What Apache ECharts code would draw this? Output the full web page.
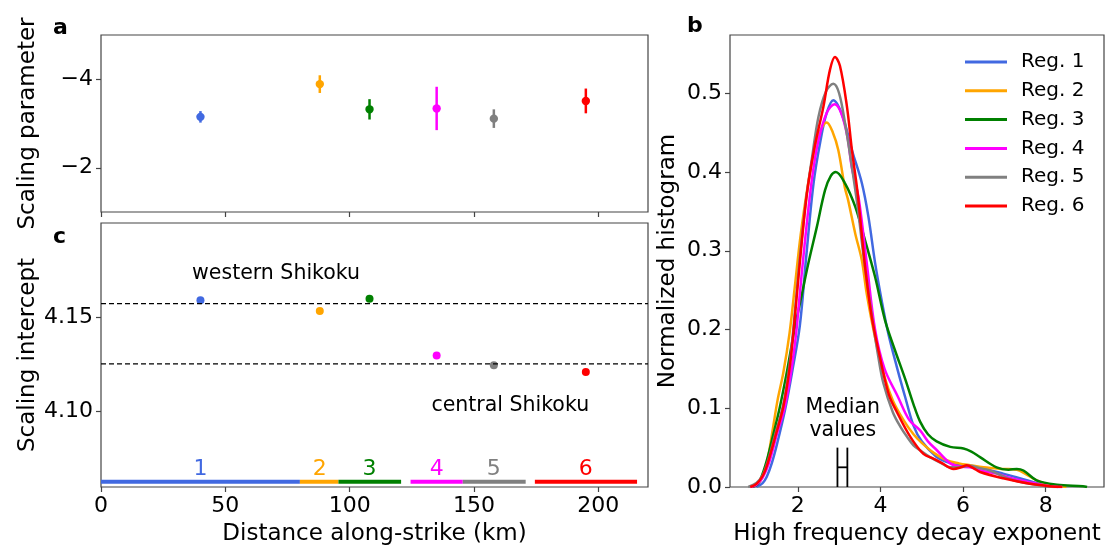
<!DOCTYPE html>
<html><head><meta charset="utf-8">
<script src="https://cdn.jsdelivr.net/npm/echarts@6/dist/echarts.min.js"></script>
<style>html,body{margin:0;padding:0;background:#fff}#c{width:1110px;height:546px}</style>
</head><body><div id="c"></div>
<script>
// ---------- data ----------
const regions = ['Reg. 1','Reg. 2','Reg. 3','Reg. 4','Reg. 5','Reg. 6'];
const regionNumbers = ['1','2','3','4','5','6'];
const distances = [40, 88, 108, 135, 158, 195];
const scalingParam = [-3.15, -3.89, -3.32, -3.34, -3.11, -3.51];
const scalingParamErr = [0.13, 0.20, 0.23, 0.49, 0.21, 0.28];
const scalingIntercept = [4.159, 4.1533, 4.1598, 4.1298, 4.1246, 4.121];
const westernLevel = 4.1572;
const centralLevel = 4.1253;
const regionStart = [0, 80, 95.5, 124.5, 145.5, 174.5];
const regionEnd = [80, 95.5, 120.7, 145.5, 170.8, 215.6];
const regionBarLevel = 4.0628;
const regionLabelLevel = 4.0693;
const annotationTexts = ['western Shikoku', 'central Shikoku'];
const annotationX = [70.4, 164.6];
const annotationY = [4.173, 4.103];
const medianRange = [2.96, 3.2];
const medianMarkTop = 0.05;
const medianTextPos = [3.09, 0.086];
const xTicksAC = [0, 50, 100, 150, 200];
const yTicksA = [-4, -2];
const yTicksC = [4.10, 4.15];
const xTicksB = [2, 4, 6, 8];
const yTicksB = [0, 0.1, 0.2, 0.3, 0.4, 0.5];

const reg1Curve = [[1.0,0],[1.15,0.005],[1.25,0.013],[1.37,0.03],[1.5,0.055],[1.7,0.1],[1.87,0.148],[2.05,0.205],[2.2,0.29],[2.38,0.385],[2.55,0.44],[2.7,0.475],[2.86,0.491],[3.0,0.482],[3.15,0.46],[3.31,0.428],[3.55,0.386],[3.71,0.343],[3.87,0.285],[4.03,0.237],[4.19,0.195],[4.4,0.152],[4.6,0.114],[4.8,0.078],[5.0,0.058],[5.36,0.038],[5.6,0.032],[5.85,0.028],[6.33,0.025],[6.97,0.017],[7.54,0.0085],[7.95,0.003],[8.3,0]];
const reg2Curve = [[0.9,0],[1.1,0.008],[1.25,0.03],[1.4,0.075],[1.51,0.11],[1.65,0.145],[1.8,0.195],[1.93,0.255],[2.07,0.32],[2.25,0.385],[2.45,0.44],[2.6,0.458],[2.7,0.463],[2.85,0.45],[2.98,0.428],[3.14,0.38],[3.22,0.364],[3.39,0.322],[3.55,0.288],[3.67,0.245],[3.87,0.19],[4.1,0.14],[4.3,0.11],[4.56,0.085],[4.8,0.067],[5.0,0.056],[5.3,0.043],[5.6,0.034],[5.9,0.03],[6.17,0.0276],[6.5,0.025],[6.97,0.023],[7.3,0.022],[7.5,0.017],[7.78,0.0085],[8.1,0.003],[8.5,0]];
const reg3Curve = [[0.9,0],[1.05,0.005],[1.23,0.03],[1.4,0.065],[1.56,0.1],[1.75,0.15],[1.92,0.2],[2.1,0.245],[2.26,0.285],[2.46,0.33],[2.66,0.377],[2.8,0.395],[2.92,0.4],[3.14,0.386],[3.39,0.356],[3.63,0.313],[3.87,0.267],[4.11,0.212],[4.35,0.174],[4.6,0.137],[4.8,0.105],[4.96,0.083],[5.15,0.067],[5.36,0.058],[5.69,0.051],[6.01,0.049],[6.2,0.045],[6.41,0.038],[6.81,0.025],[7.1,0.022],[7.3,0.023],[7.46,0.021],[7.78,0.0085],[8.27,0.003],[8.9,0.001],[9.0,0]];
const reg4Curve = [[0.85,0],[1.0,0.003],[1.15,0.012],[1.3,0.03],[1.5,0.068],[1.68,0.1],[1.85,0.15],[1.96,0.195],[2.04,0.24],[2.16,0.305],[2.34,0.39],[2.5,0.44],[2.7,0.475],[2.89,0.486],[3.05,0.475],[3.2,0.445],[3.31,0.405],[3.47,0.368],[3.67,0.284],[3.87,0.2],[4.1,0.15],[4.42,0.115],[4.7,0.085],[4.96,0.072],[5.15,0.058],[5.36,0.047],[5.69,0.03],[5.9,0.026],[6.17,0.025],[6.5,0.02],[6.81,0.017],[7.1,0.012],[7.38,0.0085],[7.78,0.004],[8.1,0.001],[8.4,0]];
const reg5Curve = [[0.8,0],[1.0,0.005],[1.15,0.015],[1.27,0.032],[1.45,0.066],[1.65,0.105],[1.8,0.155],[1.9,0.205],[2.03,0.28],[2.2,0.365],[2.35,0.42],[2.5,0.47],[2.68,0.502],[2.86,0.512],[3.0,0.5],[3.15,0.46],[3.3,0.41],[3.45,0.355],[3.6,0.29],[3.8,0.215],[3.95,0.165],[4.07,0.132],[4.3,0.095],[4.5,0.075],[4.64,0.064],[4.8,0.053],[5.0,0.045],[5.2,0.038],[5.45,0.031],[5.69,0.025],[5.9,0.025],[6.17,0.027],[6.4,0.024],[6.65,0.021],[6.95,0.014],[7.22,0.0085],[7.62,0.004],[8.0,0.001],[8.3,0]];
const reg6Curve = [[0.85,0],[1.0,0.004],[1.15,0.014],[1.27,0.03],[1.45,0.063],[1.65,0.102],[1.8,0.15],[1.91,0.205],[2.04,0.28],[2.22,0.372],[2.4,0.43],[2.62,0.483],[2.78,0.53],[2.9,0.546],[3.02,0.535],[3.19,0.483],[3.31,0.428],[3.44,0.377],[3.55,0.32],[3.65,0.27],[3.79,0.216],[3.95,0.174],[4.2,0.118],[4.4,0.095],[4.72,0.064],[5.04,0.042],[5.28,0.036],[5.5,0.03],[5.77,0.023],[5.95,0.025],[6.09,0.0276],[6.25,0.024],[6.41,0.019],[6.97,0.011],[7.62,0.004],[8.1,0.001],[8.4,0]];
const curves = [reg1Curve, reg2Curve, reg3Curve, reg4Curve, reg5Curve, reg6Curve];

// ---------- styles ----------
const colors = ['#4169E1','#FFA500','#008000','#FF00FF','#808080','#FF0000'];
const FONT = 'DejaVu Sans';
const frame = '#444';

function tickCfg(vals) {
  return { show: true, length: 5, lineStyle: { color: frame, width: 1.2 }, customValues: vals };
}
function labelCfg(vals, fmt, show) {
  const o = { show: show !== false, fontFamily: FONT, fontSize: 22, color: '#000', margin: 8, customValues: vals };
  if (fmt) o.formatter = fmt;
  return o;
}
function mkAxis(extra) {
  return Object.assign({
    type: 'value',
    axisLine: { show: false },
    splitLine: { show: false },
    nameTextStyle: { fontFamily: FONT, fontSize: 23, color: '#000' },
    nameLocation: 'middle',
    nameMoveOverlap: false
  }, extra);
}
const minus = v => (v < 0 ? '\u2212' + Math.abs(v) : String(v));
const txtLabel = (t, color, size, extra) => Object.assign({ show: true, position: 'inside', formatter: t, color: color,
  fontFamily: FONT, fontSize: size, opacity: 1, textBorderWidth: 0 }, extra || {});

const chart = echarts.init(document.getElementById('c'), null, { renderer: 'canvas' });

const series = [];
// Panel a: error bars
series.push({
  type: 'custom', name: 'param', xAxisIndex: 0, yAxisIndex: 0,
  data: distances.map((d, i) => [d, scalingParam[i], scalingParamErr[i], i]),
  renderItem: (params, api) => {
    const x = api.value(0), y = api.value(1), e = api.value(2), i = api.value(3);
    const p0 = api.coord([x, y - e]), p1 = api.coord([x, y + e]), c = api.coord([x, y]);
    return { type: 'group', children: [
      { type: 'line', shape: { x1: p0[0], y1: p0[1], x2: p1[0], y2: p1[1] }, style: { stroke: colors[i], lineWidth: 2.5 } },
      { type: 'circle', shape: { cx: c[0], cy: c[1], r: 4.2 }, style: { fill: colors[i] } }
    ]};
  }
});
// Panel c: dashed levels
[westernLevel, centralLevel].forEach(lv => {
  series.push({ type: 'line', xAxisIndex: 1, yAxisIndex: 1, showSymbol: false, silent: true,
    data: [[0, lv], [220, lv]], lineStyle: { color: '#000', width: 1.3, type: [5, 3] } });
});
// Panel c: intercept points
series.push({
  type: 'scatter', xAxisIndex: 1, yAxisIndex: 1, symbolSize: 8,
  data: distances.map((d, i) => ({ value: [d, scalingIntercept[i]], itemStyle: { color: colors[i], opacity: 1 } }))
});
// Panel c: region bars
series.push({
  type: 'custom', xAxisIndex: 1, yAxisIndex: 1,
  data: regionStart.map((s, i) => [s, regionEnd[i], regionBarLevel, i]),
  renderItem: (params, api) => {
    const i = api.value(3);
    const a = api.coord([api.value(0), api.value(2)]), b = api.coord([api.value(1), api.value(2)]);
    return { type: 'line', shape: { x1: a[0], y1: a[1], x2: b[0], y2: b[1] }, style: { stroke: colors[i], lineWidth: 4 } };
  }
});
// Panel c: region number labels
series.push({
  type: 'scatter', xAxisIndex: 1, yAxisIndex: 1, symbolSize: 1,
  itemStyle: { color: 'rgba(0,0,0,0)', opacity: 1 },
  data: distances.map((d, i) => ({ value: [d, regionLabelLevel], label: txtLabel(regionNumbers[i], colors[i], 22) }))
});
// Panel c: annotations
series.push({
  type: 'scatter', xAxisIndex: 1, yAxisIndex: 1, symbolSize: 1,
  itemStyle: { color: 'rgba(0,0,0,0)', opacity: 1 },
  data: annotationTexts.map((t, i) => ({ value: [annotationX[i], annotationY[i]], label: txtLabel(t, '#000', 20.5) }))
});
// Panel b: curves
curves.forEach((cv, i) => {
  series.push({ type: 'line', name: regions[i], xAxisIndex: 2, yAxisIndex: 2, data: cv,
    showSymbol: false, smooth: 0.35, color: colors[i], lineStyle: { width: 2.5, color: colors[i] } });
});
// Panel b: median marker
series.push({
  type: 'custom', xAxisIndex: 2, yAxisIndex: 2,
  data: [[medianRange[0], medianRange[1], medianMarkTop]],
  renderItem: (params, api) => {
    const lo = api.value(0), hi = api.value(1), top = api.value(2);
    const a0 = api.coord([lo, 0]), a1 = api.coord([lo, top]);
    const b0 = api.coord([hi, 0]), b1 = api.coord([hi, top]);
    const m0 = api.coord([lo, top / 2]), m1 = api.coord([hi, top / 2]);
    const st = { stroke: '#000', lineWidth: 1.8 };
    return { type: 'group', children: [
      { type: 'line', shape: { x1: a0[0], y1: a0[1], x2: a1[0], y2: a1[1] }, style: st },
      { type: 'line', shape: { x1: b0[0], y1: b0[1], x2: b1[0], y2: b1[1] }, style: st },
      { type: 'line', shape: { x1: m0[0], y1: m0[1], x2: m1[0], y2: m1[1] }, style: st }
    ]};
  }
});
series.push({
  type: 'scatter', xAxisIndex: 2, yAxisIndex: 2, symbolSize: 1, itemStyle: { color: 'rgba(0,0,0,0)', opacity: 1 },
  data: [{ value: medianTextPos, label: txtLabel('Median\nvalues', '#000', 20.5, { lineHeight: 23 }) }]
});

const gridCommon = { show: true, borderColor: frame, borderWidth: 1.2, backgroundColor: 'transparent',
  containLabel: false, outerBoundsMode: 'none' };
const option = {
  animation: false,
  backgroundColor: '#fff',
  grid: [
    Object.assign({ left: 101, top: 35, width: 547, height: 177 }, gridCommon),
    Object.assign({ left: 101, top: 223, width: 547, height: 264 }, gridCommon),
    Object.assign({ left: 730, top: 35, width: 374, height: 452 }, gridCommon)
  ],
  xAxis: [
    mkAxis({ gridIndex: 0, min: 0, max: 220, axisTick: tickCfg(xTicksAC), axisLabel: labelCfg(xTicksAC, null, false) }),
    mkAxis({ gridIndex: 1, min: 0, max: 220, name: 'Distance along-strike (km)', nameGap: 36,
      axisTick: tickCfg(xTicksAC), axisLabel: labelCfg(xTicksAC) }),
    mkAxis({ gridIndex: 2, min: 0.36, max: 9.41, name: 'High frequency decay exponent', nameGap: 36,
      axisTick: tickCfg(xTicksB), axisLabel: labelCfg(xTicksB) })
  ],
  yAxis: [
    mkAxis({ gridIndex: 0, min: -5, max: -1, inverse: true, name: 'Scaling parameter', nameGap: 61,
      axisTick: tickCfg(yTicksA), axisLabel: labelCfg(yTicksA, minus) }),
    mkAxis({ gridIndex: 1, min: 4.06, max: 4.2, name: 'Scaling intercept', nameGap: 61,
      axisTick: tickCfg(yTicksC), axisLabel: labelCfg(yTicksC, v => v.toFixed(2)) }),
    mkAxis({ gridIndex: 2, min: 0, max: 0.574, name: 'Normalized histogram', nameGap: 50,
      axisTick: tickCfg(yTicksB), axisLabel: labelCfg(yTicksB, v => v.toFixed(1)) })
  ],
  legend: {
    data: regions, orient: 'vertical', left: 960, top: 47, icon: 'rect', itemWidth: 42, itemHeight: 3, itemGap: 8.8,
    textStyle: { fontFamily: FONT, fontSize: 20, color: '#000', lineHeight: 20, padding: [0, 0, 0, 9] },
    selectedMode: false
  },
  graphic: [
    { type: 'text', left: 53, top: 17, style: { text: 'a', font: 'bold 22px "DejaVu Sans"', fill: '#000' } },
    { type: 'text', left: 53, top: 226, style: { text: 'c', font: 'bold 22px "DejaVu Sans"', fill: '#000' } },
    { type: 'text', left: 687, top: 15, style: { text: 'b', font: 'bold 22px "DejaVu Sans"', fill: '#000' } }
  ],
  series: series
};
chart.setOption(option);
</script></body></html>
